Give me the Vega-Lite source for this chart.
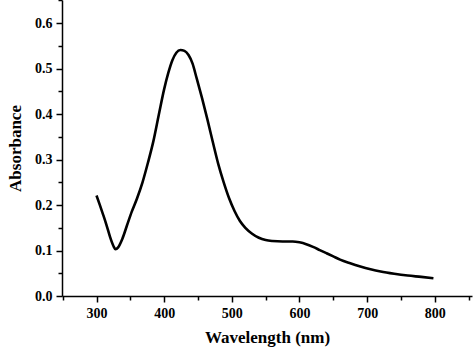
{
  "$schema": "https://vega.github.io/schema/vega-lite/v6.json",
  "width": 410,
  "height": 296,
  "autosize": {"type": "none"},
  "padding": {"left": 62, "top": 0, "right": 2, "bottom": 65},
  "background": "white",
  "config": {"view": {"stroke": null}},
  "data": {"values": [
    {"wl": 300, "abs": 0.221}, {"wl": 305, "abs": 0.20}, {"wl": 310, "abs": 0.178},
    {"wl": 315, "abs": 0.155}, {"wl": 320, "abs": 0.13}, {"wl": 325, "abs": 0.11},
    {"wl": 328, "abs": 0.103}, {"wl": 332, "abs": 0.107}, {"wl": 338, "abs": 0.125},
    {"wl": 345, "abs": 0.155}, {"wl": 352, "abs": 0.185}, {"wl": 360, "abs": 0.215},
    {"wl": 368, "abs": 0.25}, {"wl": 376, "abs": 0.293}, {"wl": 384, "abs": 0.34},
    {"wl": 392, "abs": 0.398}, {"wl": 400, "abs": 0.455}, {"wl": 406, "abs": 0.49},
    {"wl": 412, "abs": 0.518}, {"wl": 418, "abs": 0.535}, {"wl": 424, "abs": 0.541},
    {"wl": 430, "abs": 0.539}, {"wl": 436, "abs": 0.53}, {"wl": 442, "abs": 0.511},
    {"wl": 448, "abs": 0.479}, {"wl": 456, "abs": 0.435},
    {"wl": 464, "abs": 0.388}, {"wl": 472, "abs": 0.338}, {"wl": 480, "abs": 0.29},
    {"wl": 488, "abs": 0.25}, {"wl": 496, "abs": 0.215}, {"wl": 504, "abs": 0.187},
    {"wl": 512, "abs": 0.165}, {"wl": 520, "abs": 0.15}, {"wl": 530, "abs": 0.137},
    {"wl": 540, "abs": 0.128}, {"wl": 550, "abs": 0.123}, {"wl": 560, "abs": 0.121},
    {"wl": 575, "abs": 0.12}, {"wl": 590, "abs": 0.12}, {"wl": 600, "abs": 0.118},
    {"wl": 610, "abs": 0.114}, {"wl": 620, "abs": 0.108}, {"wl": 630, "abs": 0.101},
    {"wl": 640, "abs": 0.094}, {"wl": 650, "abs": 0.087}, {"wl": 660, "abs": 0.08},
    {"wl": 675, "abs": 0.072}, {"wl": 690, "abs": 0.065}, {"wl": 705, "abs": 0.059},
    {"wl": 720, "abs": 0.054}, {"wl": 740, "abs": 0.049}, {"wl": 760, "abs": 0.045},
    {"wl": 780, "abs": 0.042}, {"wl": 798, "abs": 0.039}
  ]},
  "mark": {"type": "line", "color": "black", "strokeWidth": 2.6, "interpolate": "monotone"},
  "encoding": {
    "x": {
      "field": "wl", "type": "quantitative",
      "scale": {"domain": [249, 855], "nice": false, "zero": false},
      "axis": {
        "title": "Wavelength (nm)",
        "values": [250, 300, 350, 400, 450, 500, 550, 600, 650, 700, 750, 800, 850],
        "labelExpr": "datum.value % 100 === 0 ? datum.label : ''",
        "tickSize": {"condition": {"test": "datum.value % 100 === 0", "value": 6}, "value": 4},
        "grid": false,
        "domainColor": "black", "domainWidth": 1.5,
        "tickColor": "black", "tickWidth": 1.5,
        "labelFont": "Liberation Serif", "labelFontWeight": "bold", "labelFontSize": 14, "labelColor": "black",
        "labelPadding": 4,
        "titleFont": "Liberation Serif", "titleFontWeight": "bold", "titleFontSize": 17, "titleColor": "black",
        "titlePadding": 9
      }
    },
    "y": {
      "field": "abs", "type": "quantitative",
      "scale": {"domain": [0, 0.651], "nice": false},
      "axis": {
        "title": "Absorbance",
        "values": [0, 0.05, 0.1, 0.15, 0.2, 0.25, 0.3, 0.35, 0.4, 0.45, 0.5, 0.55, 0.6, 0.65],
        "labelExpr": "(round(datum.value * 100) % 10 === 0) ? format(datum.value, '.1f') : ''",
        "tickSize": {"condition": {"test": "round(datum.value * 100) % 10 === 0", "value": 6}, "value": 4},
        "grid": false,
        "domainColor": "black", "domainWidth": 1.5,
        "tickColor": "black", "tickWidth": 1.5,
        "labelFont": "Liberation Serif", "labelFontWeight": "bold", "labelFontSize": 14, "labelColor": "black",
        "labelPadding": 4,
        "titleFont": "Liberation Serif", "titleFontWeight": "bold", "titleFontSize": 17, "titleColor": "black",
        "titlePadding": 10
      }
    }
  }
}
